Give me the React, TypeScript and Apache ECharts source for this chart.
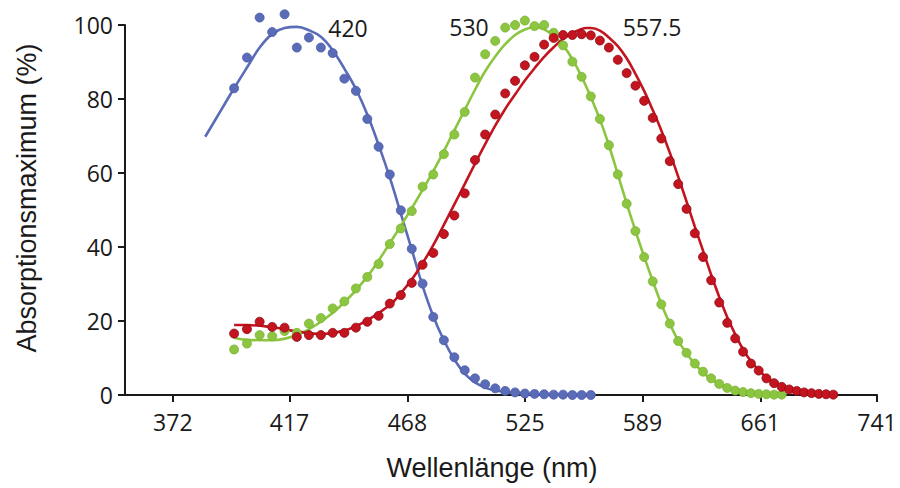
import React, { useEffect, useRef } from "react";
import * as echarts from "echarts";

// x-axis tick labels (nm, logarithmic spacing)
const xTicks = [372, 417, 468, 525, 589, 661, 741];
const yTicks = [0, 20, 40, 60, 80, 100];

// measured points (nm)
const dotNm = [
  395, 400, 405, 410, 415, 420, 425, 430, 435, 440, 445, 450, 455, 460, 465, 470,
  475, 480, 485, 490, 495, 500, 505, 510, 515, 520, 525, 530, 535, 540, 545, 550,
  555, 560, 565, 570, 575, 580, 585, 590, 595, 600, 605, 610, 615, 620, 625, 630,
  635, 640, 645, 650, 655, 660, 665, 670, 675, 680, 685, 690, 695, 700, 705, 710,
];

const blueDots = [
  82.9, 91.2, 102, 98.1, 102.9, 93.9, 96.6, 93.9, 92.4, 85.5, 82.2, 74.6, 67.1, 59.6, 49.9, 39.5,
  30.1, 21.1, 14.8, 10.2, 6.7, 4.5, 2.9, 1.8, 1.1, 0.7, 0.4, 0.3, 0.2, 0.1, 0.1, 0,
  0, 0,
];

const greenDots = [
  12.3, 13.9, 16.2, 15.9, 17.3, 16.8, 19.3, 20.8, 23.4, 25.3, 28.8, 31.9, 35.4, 40.8, 45, 49.7,
  56.3, 59.6, 65.1, 70.4, 76.5, 85.8, 92.1, 95.7, 99.3, 100, 101.2, 99.7, 100, 97.9, 94.5, 90.1,
  86, 80.7, 74.6, 67.5, 59.6, 51.7, 44.3, 37.3, 30.7, 24.5, 19.3, 14.6, 11.4, 8.5, 6.3, 4.5,
  3, 1.9, 1.2, 0.8, 0.5, 0.3, 0.2, 0.1, 0.1,
];

const redDots = [
  16.6, 17.8, 19.8, 18.4, 18.2, 15.7, 16.2, 16.2, 16.8, 16.8, 18.2, 19.8, 21.4, 24.7, 27, 30.3,
  35.2, 38.4, 43.5, 48.5, 54.5, 63.5, 70.4, 75.8, 81.5, 84.9, 89.1, 91.4, 94.7, 96.5, 97.3, 97.3,
  97.5, 97.2, 95.8, 93.9, 90.6, 87, 83.6, 79.5, 74.9, 69.3, 63.2, 57, 50.3, 43.7, 37.3, 31,
  25, 19.5, 15.3, 11.7, 8.5, 6.6, 4.5, 3.2, 2.2, 1.5, 1.1, 0.7, 0.5, 0.3, 0.2, 0.1,
];

// fitted curves
const blueLineNm = [384, 390, 395, 400, 405, 410, 415, 420, 425, 430, 435, 440, 445, 450, 455, 460,
  465, 470, 475, 480, 485, 490, 495, 500, 505, 510, 520, 530, 540, 550, 560];
const blueLineVal = [69.8, 77, 82.9, 88.5, 93.9, 97.6, 99.2, 99.5, 98.6, 96.8, 93.2, 88.2, 82.7, 75.8, 67.6, 58.8,
  49, 39.3, 29.5, 21.3, 14.8, 9.6, 5.8, 3.4, 2, 1.2, 0.5, 0.2, 0.1, 0, 0];

const greenLineNm = [395, 400, 410, 420, 430, 440, 450, 460, 470, 480, 490, 500, 505, 510, 515, 520,
  525, 530, 535, 540, 545, 550, 555, 560, 565, 570, 575, 580, 585, 590, 595, 600,
  605, 610, 615, 620, 625, 630, 640, 650, 660, 675];
const greenLineVal = [15.5, 14.9, 14.8, 16.2, 19.8, 25, 32, 41, 50.5, 60.5, 71.5, 82.5, 87.5, 91.5, 94.8, 97.3,
  98.8, 99.4, 98.8, 97, 94.5, 90.8, 86, 80.5, 74.5, 67.5, 59.6, 51.8, 44.4, 37.4, 30.8, 24.6,
  19.3, 14.7, 11.3, 8.4, 6.1, 4.3, 1.9, 0.8, 0.3, 0.1];

const redLineNm = [395, 400, 410, 420, 430, 440, 450, 460, 465, 470, 475, 480, 485, 490, 495, 500,
  505, 510, 515, 520, 525, 530, 535, 540, 545, 550, 555, 557.5, 560, 565, 570, 575,
  580, 585, 590, 595, 600, 605, 610, 615, 620, 625, 630, 635, 640, 645, 650, 655,
  660, 665, 670, 680, 690, 700, 710];
const redLineVal = [18.9, 18.9, 18.3, 17.2, 16.5, 17.4, 20.2, 24.3, 27.5, 31.2, 35.6, 40.5, 46, 51.5, 57, 62.5,
  67.8, 72.8, 77.3, 81.2, 85, 88.3, 91.4, 94, 96.2, 97.8, 98.9, 99.2, 99.2, 98.5, 96.6, 94.3,
  91, 86.8, 82.2, 77, 71.5, 65.5, 59, 52.3, 45.5, 39, 32.5, 26.5, 21, 16.4, 12.3, 9.1,
  6.7, 4.8, 3.4, 1.6, 0.7, 0.3, 0.1];

const peakLabels = ["420", "530", "557.5"];

const BLUE = "#5a6bb8";
const GREEN = "#8cc540";
const RED = "#c3141f";
const INK = "#1a1a1a";

const NUM_FONT = "'Open Sans', 'Noto Sans', sans-serif";
const TITLE_FONT = "'Liberation Sans', Arial, sans-serif";

function pairs(xs: number[], ys: number[]) {
  return ys.map((y, i) => [xs[i], y]);
}

export default function App() {
  const ref = useRef<HTMLDivElement>(null);

  useEffect(() => {
    if (!ref.current) return;
    const chart = echarts.init(ref.current, undefined, { renderer: "svg" });
    const dotSeries = (name: string, vals: number[], color: string, border: string) => ({
      name,
      type: "scatter",
      data: pairs(dotNm, vals),
      symbol: "circle",
      symbolSize: 9,
      clip: false,
      itemStyle: { color, borderColor: border, borderWidth: 0.8, opacity: 1 },
      z: 3,
    });
    const lineSeries = (name: string, xs: number[], vals: number[], color: string) => ({
      name,
      type: "line",
      data: pairs(xs, vals),
      smooth: 0.4,
      showSymbol: false,
      clip: false,
      lineStyle: { color, width: 2.6 },
      z: 2,
    });

    chart.setOption({
      animation: false,
      backgroundColor: "#ffffff",
      grid: { left: 125, right: 23, top: 25, bottom: 93, containLabel: false, outerBoundsMode: "none" },
      xAxis: {
        type: "log",
        logBase: 10,
        min: 355,
        max: 741,
        name: "Wellenlänge (nm)",
        nameLocation: "middle",
        nameGap: 59,
        nameTextStyle: { fontFamily: TITLE_FONT, fontSize: 27, color: INK, padding: [0, 18, 0, 0] },
        axisLine: { show: true, lineStyle: { color: INK, width: 2 } },
        axisTick: { show: true, inside: false, length: 7, customValues: xTicks, lineStyle: { color: INK, width: 2 } },
        axisLabel: {
          customValues: xTicks,
          margin: 15,
          fontFamily: NUM_FONT,
          fontSize: 23,
          color: INK,
          formatter: (v: number) => String(Math.round(v)),
        },
        splitLine: { show: false },
        minorTick: { show: false },
        minorSplitLine: { show: false },
      },
      yAxis: {
        type: "value",
        min: 0,
        max: 100,
        interval: 20,
        name: "Absorptionsmaximum (%)",
        nameLocation: "middle",
        nameGap: 85,
        nameTextStyle: { fontFamily: TITLE_FONT, fontSize: 27, color: INK, padding: [0, 0, 0, 24] },
        axisLine: { show: true, lineStyle: { color: INK, width: 2 } },
        axisTick: { show: true, inside: false, length: 7, lineStyle: { color: INK, width: 2 } },
        axisLabel: {
          margin: 12,
          fontFamily: NUM_FONT,
          fontSize: 23,
          color: INK,
          customValues: yTicks,
        },
        splitLine: { show: false },
      },
      graphic: [
        { type: "text", x: 348, y: 28, style: { text: peakLabels[0], font: `23px ${NUM_FONT}`, fill: INK, align: "center", verticalAlign: "middle" } },
        { type: "text", x: 469, y: 27, style: { text: peakLabels[1], font: `23px ${NUM_FONT}`, fill: INK, align: "center", verticalAlign: "middle" } },
        { type: "text", x: 652, y: 27, style: { text: peakLabels[2], font: `23px ${NUM_FONT}`, fill: INK, align: "center", verticalAlign: "middle" } },
      ],
      series: [
        lineSeries("S-Zapfen Kurve", blueLineNm, blueLineVal, BLUE),
        lineSeries("M-Zapfen Kurve", greenLineNm, greenLineVal, GREEN),
        lineSeries("L-Zapfen Kurve", redLineNm, redLineVal, RED),
        dotSeries("S-Zapfen", blueDots, BLUE, "#4a5aa6"),
        dotSeries("M-Zapfen", greenDots, GREEN, "#7ab333"),
        dotSeries("L-Zapfen", redDots, RED, "#8e0d16"),
      ],
    });
    return () => chart.dispose();
  }, []);

  return (
    <div
      ref={ref}
      style={{ position: "absolute", left: 0, top: 0, width: 900, height: 488, background: "#fff" }}
    />
  );
}
